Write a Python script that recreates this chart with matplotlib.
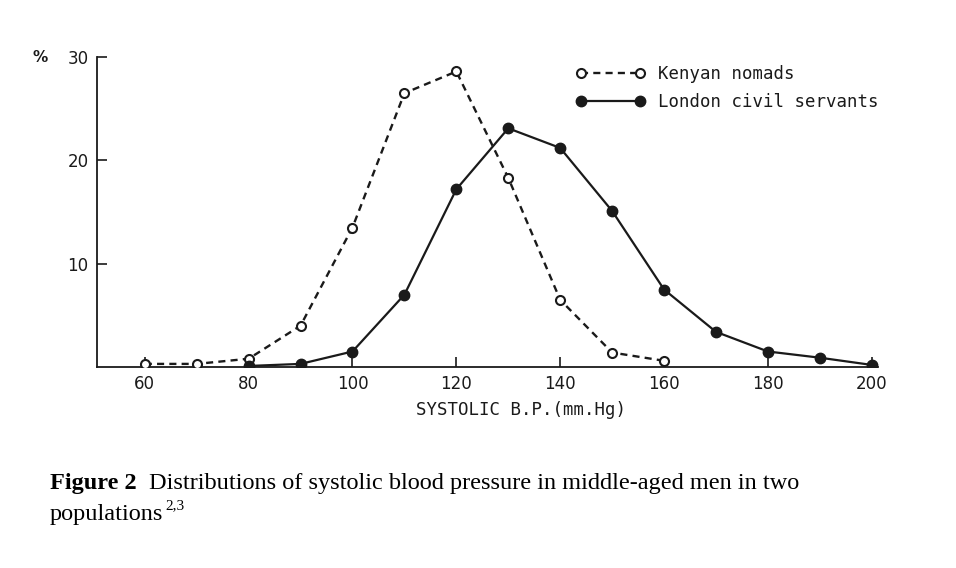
import matplotlib
matplotlib.use("Agg")
import matplotlib.pyplot as plt

kenya_x = [60, 70, 80, 90, 100, 110, 120, 130, 140, 150, 160]
kenya_y = [0.3, 0.3, 0.8, 4.0, 13.5, 26.5, 28.6, 18.3, 6.5, 1.4, 0.6]
london_x = [80, 90, 100, 110, 120, 130, 140, 150, 160, 170, 180, 190, 200]
london_y = [0.1, 0.3, 1.5, 7.0, 17.2, 23.1, 21.2, 15.1, 7.5, 3.4, 1.5, 0.9, 0.2]
x_ticks = [60, 80, 100, 120, 140, 160, 180, 200]
y_ticks = [10, 20, 30]
labels = ["Kenyan nomads", "London civil servants"]

fig = plt.figure(figsize=(9.56, 5.68), dpi=100)
ax = fig.add_axes([97/956, 1-367/568, (878-97)/956, (367-57)/568])
ax.set_xlim(50.8, 201.2)
ax.set_ylim(0, 30)

ink = "#1a1a1a"
ax.plot(kenya_x, kenya_y, linestyle=(0, (3, 2.2)), lw=1.7, color=ink,
        marker="o", ms=6.5, mfc="white", mec=ink, mew=1.5, label=labels[0], zorder=3)
ax.plot(london_x, london_y, linestyle="-", lw=1.6, color=ink,
        marker="o", ms=7.5, mfc=ink, mec=ink, label=labels[1], zorder=3)

for s in ["top", "right"]:
    ax.spines[s].set_visible(False)
for s in ["left", "bottom"]:
    ax.spines[s].set_color(ink)
    ax.spines[s].set_linewidth(1.3)

ax.set_xticks(x_ticks)
ax.set_yticks(y_ticks)
ax.tick_params(direction="in", length=7, width=1.2, color=ink, labelcolor=ink,
               labelsize=12, pad=6)
mono = "DejaVu Sans Mono"

ax.set_xlabel("SYSTOLIC B.P.(mm.Hg)", fontfamily=mono, fontsize=12.5, color=ink)
ax.xaxis.set_label_coords((521-97)/781, -(410-367)/310)
ax.xaxis.label.set_va("center")
ax.text(48/956, 1-57/568, "%", transform=fig.transFigure, ha="right", va="center",
        fontsize=11, fontweight="bold", color=ink)

leg = ax.legend(loc="upper left", bbox_to_anchor=(576/956, 1-65/568),
                bbox_transform=fig.transFigure, frameon=False, numpoints=2,
                handlelength=4.0, handletextpad=0.75, labelspacing=0.6,
                prop={"family": mono, "size": 12.5}, borderaxespad=0, borderpad=0)
for t in leg.get_texts():
    t.set_color(ink)

serif = "Liberation Serif"
fig.text(50/956, 1-489/568, "Figure 2", fontsize=17.5, fontfamily=serif, fontweight="bold",
         va="baseline", ha="left", color="black")
fig.text(149/956, 1-489/568, "Distributions of systolic blood pressure in middle-aged men in two",
         fontsize=17.5, fontfamily=serif, va="baseline", ha="left", color="black")
pop = fig.text(50/956, 1-520/568, "populations", fontsize=17.5, fontfamily=serif,
               va="baseline", ha="left", color="black")
renderer = fig.canvas.get_renderer()
bb = pop.get_window_extent(renderer=renderer)
fig.text((bb.x1 + 2)/956, 1-509/568, "2,3", fontsize=11, fontfamily=serif,
         va="baseline", ha="left", color="black")

fig.savefig("out.png", dpi=100, facecolor="white")
